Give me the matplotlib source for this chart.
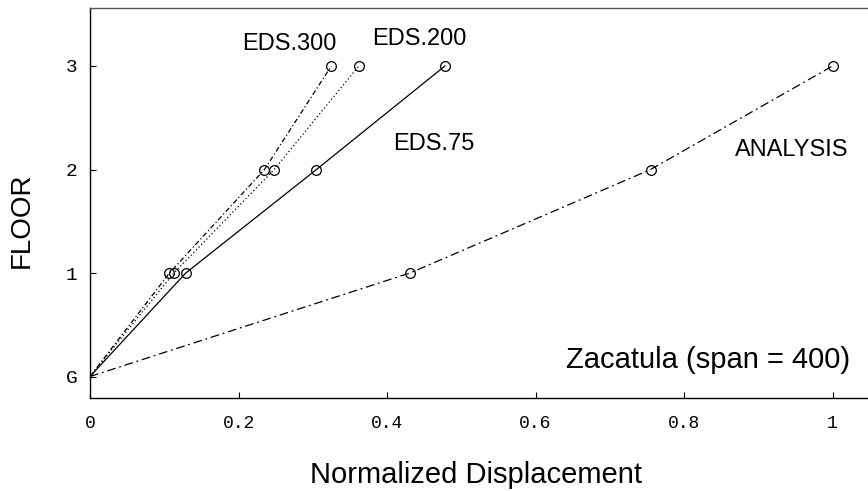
import matplotlib
matplotlib.use("Agg")
import matplotlib.pyplot as plt

floors = [0, 1, 2, 3]
floor_labels = ["G", "1", "2", "3"]
x_ticks = [0, 0.2, 0.4, 0.6, 0.8, 1.0]
x_tick_labels = ["0", "0.2", "0.4", "0.6", "0.8", "1"]

eds300 = [0.0, 0.107, 0.235, 0.325]
eds200 = [0.0, 0.113, 0.248, 0.362]
eds75 = [0.0, 0.129, 0.305, 0.478]
analysis = [0.0, 0.431, 0.755, 1.0]

fig = plt.figure(figsize=(8.68, 4.91), dpi=100)
ax = fig.add_axes([90/868, 1-398/491, 1-90/868, (398-8)/491])

lw = 0.9
mk = dict(marker="o", markersize=7, markerfacecolor="none", markeredgecolor="black",
          markeredgewidth=0.9, markevery=[1, 2, 3])
ax.plot(eds300, floors, color="black", lw=lw, linestyle=(0, (4, 2, 1, 2)), **mk)
ax.plot(eds200, floors, color="black", lw=lw, linestyle=(0, (1, 2)), **mk)
ax.plot(eds75, floors, color="black", lw=lw, linestyle="-", **mk)
ax.plot(analysis, floors, color="black", lw=lw, linestyle=(0, (7, 3, 1.5, 3)), **mk)

ax.set_xlim(0, (868-90)/742.5)
ax.set_ylim(-(398-376.5)/103.5, (376.5-8)/103.5)

ax.set_xticks(x_ticks)
ax.set_xticklabels(x_tick_labels, family="Liberation Mono", fontsize=13)
ax.set_yticks(floors)
ax.set_yticklabels(floor_labels, family="Liberation Mono", fontsize=14)
ax.tick_params(direction="in", length=4, width=0.8, colors="black")
ax.tick_params(axis="x", pad=12)
ax.tick_params(axis="y", pad=9)
ax.spines["right"].set_visible(False)
for s in ["left", "bottom", "top"]:
    ax.spines[s].set_linewidth(1.0)
ax.spines["top"].set_color("#555555")

tf = dict(family="Liberation Sans", color="black")
ax.text(0.205, 3.155, "EDS.300", fontsize=17, ha="left", va="baseline", **tf)
ax.text(0.380, 3.203, "EDS.200", fontsize=17, ha="left", va="baseline", **tf)
ax.text(0.408, 2.188, "EDS.75", fontsize=17, ha="left", va="baseline", **tf)
ax.text(0.869, 2.130, "ANALYSIS", fontsize=17, ha="left", va="baseline", **tf)
ax.text(0.641, 0.082, "Zacatula (span = 400)", fontsize=21, ha="left", va="baseline", **tf)

fig.text(22/868, 1-220/491, "FLOOR", rotation=90, fontsize=20, ha="center", va="center", **tf)
fig.text(476/868, 1-483/491, "Normalized Displacement", fontsize=21, ha="center", va="baseline", **tf)

fig.savefig("out.png", dpi=100)
